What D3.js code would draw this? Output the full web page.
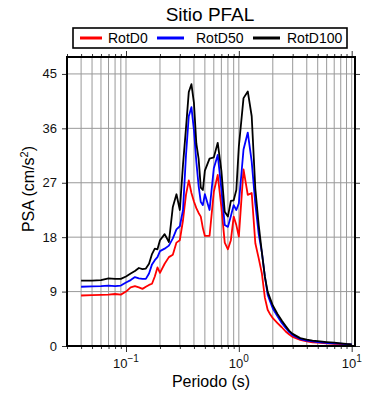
<!DOCTYPE html>
<html lang="en">
<head>
<meta charset="UTF-8">
<title>Sitio PFAL</title>
<style>
  body { margin: 0; background: #fff; }
  svg { font-family: "Liberation Sans", Arial, sans-serif; }
</style>
</head>
<body>
<svg class="chart"></svg>
<script src="https://cdnjs.cloudflare.com/ajax/libs/d3/7.8.5/d3.min.js"></script>
<script>

// periods (s)
const periods = [0.04, 0.05, 0.06, 0.07, 0.08, 0.09, 0.10, 0.11, 0.12, 0.13, 0.14, 0.15, 0.16, 0.17, 0.18, 0.19,
  0.20, 0.22, 0.24, 0.26, 0.28, 0.30, 0.32, 0.34, 0.36, 0.38, 0.40, 0.42, 0.44, 0.46, 0.48, 0.50,
  0.55, 0.60, 0.65, 0.70, 0.75, 0.80, 0.85, 0.90, 0.95, 1.0, 1.1, 1.2, 1.3, 1.4, 1.5, 1.6, 1.7, 1.8, 1.9,
  2.0, 2.2, 2.4, 2.6, 2.8, 3.0, 3.5, 4.0, 4.5, 5.0, 6.0, 7.0, 8.0, 9.0, 10.0];

const rotD0 = [8.35, 8.4, 8.45, 8.5, 8.6, 8.5, 9.0, 9.7, 9.9, 9.7, 9.45, 9.8, 10.1, 10.3, 11.5, 13.0,
  12.1, 13.6, 14.7, 15.1, 17.1, 17.5, 20.8, 25.0, 27.4, 25.3, 23.9, 22.8, 22.0, 21.4, 19.5, 18.2,
  18.2, 25.5, 28.3, 23.0, 17.1, 16.0, 17.5, 21.4, 20.0, 18.1, 29.2, 25.0, 25.3, 17.0, 14.5, 12.0, 8.0, 6.0, 5.2,
  4.6, 3.8, 3.1, 2.4, 1.9, 1.5, 1.0, 0.75, 0.62, 0.55, 0.42, 0.37, 0.3, 0.25, 0.2];

const rotD50 = [9.8, 9.85, 9.9, 10.0, 9.9, 10.0, 10.5, 10.9, 11.4, 11.2, 11.1, 11.1, 12.0, 13.5, 14.2, 14.7,
  15.7, 16.1, 16.6, 17.8, 19.3, 19.8, 22.5, 31.5, 38.0, 39.5, 35.7, 30.5, 26.5, 23.8, 23.3, 25.1,
  22.5, 29.4, 31.6, 26.0, 20.0, 19.7, 21.5, 23.3, 22.5, 23.6, 32.5, 35.3, 30.5, 23.5, 18.5, 15.5, 11.5, 8.5, 7.3,
  6.2, 4.9, 3.8, 3.0, 2.3, 1.8, 1.15, 0.9, 0.75, 0.65, 0.5, 0.45, 0.38, 0.3, 0.25];

const rotD100 = [10.8, 10.8, 10.9, 11.2, 11.1, 11.1, 11.5, 12.0, 12.4, 12.9, 12.7, 12.8, 13.6, 15.2, 16.1, 16.0,
  17.5, 18.5, 17.2, 23.0, 25.1, 22.5, 30.0, 36.0, 42.0, 43.3, 40.2, 33.5, 31.0, 26.2, 25.8, 29.0,
  31.0, 31.2, 33.6, 29.0, 22.2, 21.4, 24.0, 24.1, 25.8, 33.0, 41.0, 42.1, 38.0, 26.0, 20.0, 15.5, 11.5, 9.0, 7.8,
  6.7, 5.3, 4.2, 3.3, 2.5, 2.0, 1.3, 1.05, 0.9, 0.8, 0.65, 0.55, 0.45, 0.35, 0.28];

const seriesNames = ['RotD0', 'RotD50', 'RotD100'];
const yTicks = [0, 9, 18, 27, 36, 45];
const xDecades = [0.1, 1, 10];

const colors = ['#ff0000', '#0000ff', '#000000'];
const series = [rotD0, rotD50, rotD100];

const chartWidth = 390, chartHeight = 400;
const margin = {top: 57, left: 67, right: 35, bottom: 54};
const innerWidth = chartWidth - margin.left - margin.right;
const innerHeight = chartHeight - margin.top - margin.bottom;

const svg = d3.select('.chart')
  .attr('width', chartWidth)
  .attr('height', chartHeight);

const chart = svg.append('g')
  .attr('transform', `translate(${margin.left},${margin.top})`);

const xScale = d3.scaleLog().domain([0.03, 10.7]).range([0, innerWidth]);
const yScale = d3.scaleLinear().domain([0, 47.8]).range([innerHeight, 0]);

// all 1..9 x decade ticks inside the domain
let xTicks = [];
[0.01, 0.1, 1, 10].forEach(d => {
  for (let k = 1; k < 10; k++) {
    const v = +(d * k).toPrecision(3);
    if (v >= 0.03 && v <= 10.7) xTicks.push(v);
  }
});
const isDecade = v => xDecades.includes(v);

// grid
chart.append('g').selectAll('line.gx')
  .data(xTicks.filter(v => v > 0.03))
  .enter().append('line')
  .attr('x1', d => xScale(d)).attr('x2', d => xScale(d))
  .attr('y1', 0).attr('y2', innerHeight)
  .attr('stroke', '#999').attr('stroke-width', 1);

chart.append('g').selectAll('line.gy')
  .data(yTicks.filter(v => v > 0))
  .enter().append('line')
  .attr('x1', 0).attr('x2', innerWidth)
  .attr('y1', d => yScale(d)).attr('y2', d => yScale(d))
  .attr('stroke', '#999').attr('stroke-width', 1);

// axes
const styleAxis = g => {
  g.select('.domain').remove();
  g.selectAll('.tick line').attr('stroke', '#333');
};

const xBottom = chart.append('g')
  .attr('transform', `translate(0,${innerHeight})`)
  .call(d3.axisBottom(xScale).tickValues(xTicks).tickSize(3).tickFormat(''))
  .call(styleAxis);
xBottom.selectAll('.tick line').attr('y2', d => isDecade(d) ? 6 : 3);

chart.append('g')
  .call(d3.axisTop(xScale).tickValues(xTicks).tickSize(3).tickFormat(''))
  .call(styleAxis)
  .selectAll('.tick line').attr('y2', d => isDecade(d) ? -6 : -3);

chart.append('g')
  .call(d3.axisLeft(yScale).tickValues(yTicks).tickSize(5).tickFormat(''))
  .call(styleAxis);

chart.append('g')
  .attr('transform', `translate(${innerWidth},0)`)
  .call(d3.axisRight(yScale).tickValues(yTicks).tickSize(5).tickFormat(''))
  .call(styleAxis);

// tick labels
const xLab = chart.append('g').selectAll('text.xl')
  .data(xDecades)
  .enter().append('text')
  .attr('x', d => xScale(d))
  .attr('y', innerHeight + 22)
  .attr('text-anchor', 'middle')
  .attr('font-size', 13)
  .attr('fill', '#111');
xLab.append('tspan').text('10');
xLab.append('tspan')
  .attr('dy', -6)
  .attr('font-size', 10)
  .text(d => d3.format('d')(Math.log10(d)).replace('-', '\u2212'));

chart.append('g').selectAll('text.yl')
  .data(yTicks)
  .enter().append('text')
  .attr('x', -10)
  .attr('y', d => yScale(d))
  .attr('dy', '0.35em')
  .attr('text-anchor', 'end')
  .attr('font-size', 13)
  .attr('fill', '#111')
  .text(d => d);

// curves
const line = d3.line()
  .x((d, i) => xScale(periods[i]))
  .y(d => yScale(d));

chart.append('g').selectAll('path.curve')
  .data(series)
  .enter().append('path')
  .attr('d', d => line(d))
  .attr('fill', 'none')
  .attr('stroke', (d, i) => colors[i])
  .attr('stroke-width', 1.8)
  .attr('stroke-linejoin', 'round');

// frame
chart.append('rect')
  .attr('width', innerWidth).attr('height', innerHeight)
  .attr('fill', 'none').attr('stroke', '#000').attr('stroke-width', 2);

// labels
svg.append('text')
  .attr('x', 210).attr('y', 21)
  .attr('text-anchor', 'middle')
  .attr('font-size', 19)
  .text('Sitio PFAL');

svg.append('text')
  .attr('x', 211).attr('y', 387)
  .attr('text-anchor', 'middle')
  .attr('font-size', 16)
  .text('Periodo (s)');

const yLabel = svg.append('text')
  .attr('transform', 'translate(34,189) rotate(-90)')
  .attr('text-anchor', 'middle')
  .attr('font-size', 16);
yLabel.append('tspan').text('PSA (cm/s');
yLabel.append('tspan').attr('dy', -6).attr('font-size', 11).text('2');
yLabel.append('tspan').attr('dy', 6).text(')');

// legend
const legend = svg.append('g');
legend.append('rect')
  .attr('x', 73).attr('y', 28).attr('width', 274).attr('height', 20)
  .attr('fill', '#fff').attr('stroke', '#000').attr('stroke-width', 1.6);

const legendX = [80, 157, 253];
const items = legend.selectAll('g.item')
  .data(seriesNames)
  .enter().append('g')
  .attr('transform', (d, i) => `translate(${legendX[i]},38)`);
items.append('line')
  .attr('x1', 0).attr('x2', (d, i) => i === 0 ? 22 : 27)
  .attr('stroke', (d, i) => colors[i])
  .attr('stroke-width', 3);
items.append('text')
  .attr('x', (d, i) => i === 0 ? 28 : (i === 1 ? 39 : 34))
  .attr('dy', '0.35em')
  .attr('font-size', 14)
  .text(d => d);

</script>
</body>
</html>
